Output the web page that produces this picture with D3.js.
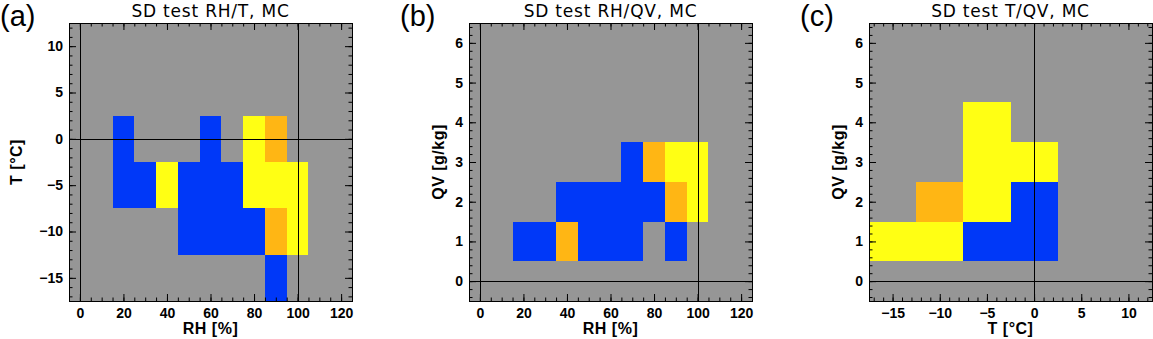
<!DOCTYPE html>
<html>
<head>
<style>
    body { margin: 0; background: #fff; }
    .tick text { font-family: "Liberation Sans", Arial, sans-serif; font-weight: bold; font-size: 14px; fill: #000; }
    .tick line { stroke: #000; }
</style>
</head>
<body>
<script src="https://d3js.org/d3.v7.min.js"></script>
<script>
    // bin centres
    const rhBins = [20, 30, 40, 50, 60, 70, 80, 90, 100];
    const tBinsA = [0, -5, -10, -15];
    const qvBinsB = [3, 2, 1];
    const tBinsC = [-15, -10, -5, 0];
    const qvBinsC = [4, 3, 2, 1];

    // 0 = no data, 1 = blue, 2 = yellow, 3 = orange
    const gridA = [
        [1, 0, 0, 0, 1, 0, 2, 3, 0],
        [1, 1, 2, 1, 1, 1, 2, 2, 2],
        [0, 0, 0, 1, 1, 1, 1, 3, 2],
        [0, 0, 0, 0, 0, 0, 0, 1, 0]
    ];
    const gridB = [
        [0, 0, 0, 0, 0, 1, 3, 2, 2],
        [0, 0, 1, 1, 1, 1, 1, 3, 2],
        [1, 1, 3, 1, 1, 1, 0, 1, 0]
    ];
    const gridC = [
        [0, 0, 2, 0],
        [0, 0, 2, 2],
        [0, 3, 2, 1],
        [2, 2, 1, 1]
    ];

    // tick labels
    const rhTicks = [0, 20, 40, 60, 80, 100, 120];
    const tTicks = [-15, -10, -5, 0, 5, 10];
    const qvTicks = [0, 1, 2, 3, 4, 5, 6];

    const titles = ["SD test RH/T, MC", "SD test RH/QV, MC", "SD test T/QV, MC"];
    const labels = ["(a)", "(b)", "(c)"];

    const colors = {1: "rgb(0,56,248)", 2: "rgb(255,255,20)", 3: "rgb(255,182,20)"};

    const W = 1153, H = 339;
    const pw = 283, ph = 278, plotTop = 23;

    const svg = d3.select("body").append("svg")
        .attr("width", W)
        .attr("height", H);

    const panels = [
        {left: 69, xDomain: [-5, 125], yDomain: [-17.5, 12.5],
         xTicks: rhTicks, xMinor: d3.range(-5, 126, 5), yTicks: tTicks, yMinor: d3.range(-17, 13, 1),
         xBins: rhBins, yBins: tBinsA, xw: 10, yw: 5, grid: gridA,
         refX: [0, 100], refY: [0], xTitle: "RH [%]", yTitle: "T [°C]", yTitleX: -47},
        {left: 469, xDomain: [-5, 125], yDomain: [-0.5, 6.5],
         xTicks: rhTicks, xMinor: d3.range(-5, 126, 5), yTicks: qvTicks, yMinor: d3.range(-2, 33, 1).map(d => d / 5),
         xBins: rhBins, yBins: qvBinsB, xw: 10, yw: 1, grid: gridB,
         refX: [0, 100], refY: [0], xTitle: "RH [%]", yTitle: "QV [g/kg]", yTitleX: -25},
        {left: 869, xDomain: [-17.5, 12.5], yDomain: [-0.5, 6.5],
         xTicks: tTicks, xMinor: d3.range(-17, 13, 1), yTicks: qvTicks, yMinor: d3.range(-2, 33, 1).map(d => d / 5),
         xBins: tBinsC, yBins: qvBinsC, xw: 5, yw: 1, grid: gridC,
         refX: [0], refY: [0], xTitle: "T [°C]", yTitle: "QV [g/kg]", yTitleX: -25}
    ];

    panels.forEach(function (p, i) {
        drawPanel(p, i);
    });

    function drawPanel(p, i) {
        let g = svg.append("g").attr("transform", "translate(" + p.left + "," + plotTop + ")");

        let x = d3.scaleLinear().domain(p.xDomain).range([0, pw]);
        let y = d3.scaleLinear().domain(p.yDomain).range([ph, 0]);

        g.append("rect")
            .attr("width", pw)
            .attr("height", ph)
            .attr("fill", "rgb(150,150,150)");

        // cells
        let cells = [];
        p.grid.forEach(function (row, r) {
            row.forEach(function (v, c) {
                if (v > 0) cells.push({x: p.xBins[c], y: p.yBins[r], v: v});
            });
        });
        g.selectAll("rect.cell")
            .data(cells)
            .enter().append("rect")
            .attr("class", "cell")
            .attr("x", d => x(d.x - p.xw / 2))
            .attr("width", d => x(d.x + p.xw / 2) - x(d.x - p.xw / 2))
            .attr("y", d => y(d.y + p.yw / 2))
            .attr("height", d => y(d.y - p.yw / 2) - y(d.y + p.yw / 2))
            .attr("fill", d => colors[d.v])
            .attr("shape-rendering", "crispEdges");

        // reference lines
        g.selectAll("line.refx")
            .data(p.refX)
            .enter().append("line")
            .attr("x1", d => Math.round(x(d)) + 0.5)
            .attr("x2", d => Math.round(x(d)) + 0.5)
            .attr("y1", 0)
            .attr("y2", ph)
            .attr("stroke", "#000");
        g.selectAll("line.refy")
            .data(p.refY)
            .enter().append("line")
            .attr("y1", d => Math.round(y(d)) + 0.5)
            .attr("y2", d => Math.round(y(d)) + 0.5)
            .attr("x1", 0)
            .attr("x2", pw)
            .attr("stroke", "#000");

        // axes, ticks pointing inward on all four sides
        let fmt = d3.format("d");
        let bottom = g.append("g").attr("transform", "translate(0," + ph + ")");
        bottom.call(d3.axisBottom(x).tickValues(p.xTicks).tickSize(-7).tickSizeOuter(0).tickPadding(7).tickFormat(fmt));
        bottom.append("g").call(d3.axisBottom(x).tickValues(p.xMinor).tickSize(-3.5).tickSizeOuter(0).tickFormat(""));
        let left = g.append("g");
        left.call(d3.axisLeft(y).tickValues(p.yTicks).tickSize(-7).tickSizeOuter(0).tickPadding(6).tickFormat(fmt));
        left.append("g").call(d3.axisLeft(y).tickValues(p.yMinor).tickSize(-3.5).tickSizeOuter(0).tickFormat(""));
        let topAx = g.append("g");
        topAx.call(d3.axisTop(x).tickValues(p.xTicks).tickSize(-7).tickSizeOuter(0).tickFormat(""));
        topAx.append("g").call(d3.axisTop(x).tickValues(p.xMinor).tickSize(-3.5).tickSizeOuter(0).tickFormat(""));
        let right = g.append("g").attr("transform", "translate(" + pw + ",0)");
        right.call(d3.axisRight(y).tickValues(p.yTicks).tickSize(-7).tickSizeOuter(0).tickFormat(""));
        right.append("g").call(d3.axisRight(y).tickValues(p.yMinor).tickSize(-3.5).tickSizeOuter(0).tickFormat(""));
        g.selectAll(".domain").remove();

        g.append("rect")
            .attr("x", 0.5)
            .attr("y", 0.5)
            .attr("width", pw)
            .attr("height", ph)
            .attr("fill", "none")
            .attr("stroke", "#000");

        // texts
        g.append("text")
            .attr("x", pw / 2)
            .attr("y", -6)
            .attr("text-anchor", "middle")
            .attr("font-family", "DejaVu Sans")
            .attr("font-size", 17)
            .attr("letter-spacing", 0.8)
            .text(titles[i]);

        g.append("text")
            .attr("x", pw / 2)
            .attr("y", 334 - plotTop)
            .attr("text-anchor", "middle")
            .attr("font-family", "Liberation Sans")
            .attr("font-weight", "bold")
            .attr("font-size", 16)
            .attr("letter-spacing", 0.5)
            .text(p.xTitle);

        g.append("text")
            .attr("transform", "translate(" + p.yTitleX + "," + (ph / 2) + ") rotate(-90)")
            .attr("text-anchor", "middle")
            .attr("font-family", "Liberation Sans")
            .attr("font-weight", "bold")
            .attr("font-size", 16)
            .attr("letter-spacing", 0.5)
            .text(p.yTitle);

        g.append("text")
            .attr("x", -69)
            .attr("y", 26 - plotTop)
            .attr("font-family", "Liberation Sans")
            .attr("font-size", 29)
            .text(labels[i]);
    }
</script>
</body>
</html>
